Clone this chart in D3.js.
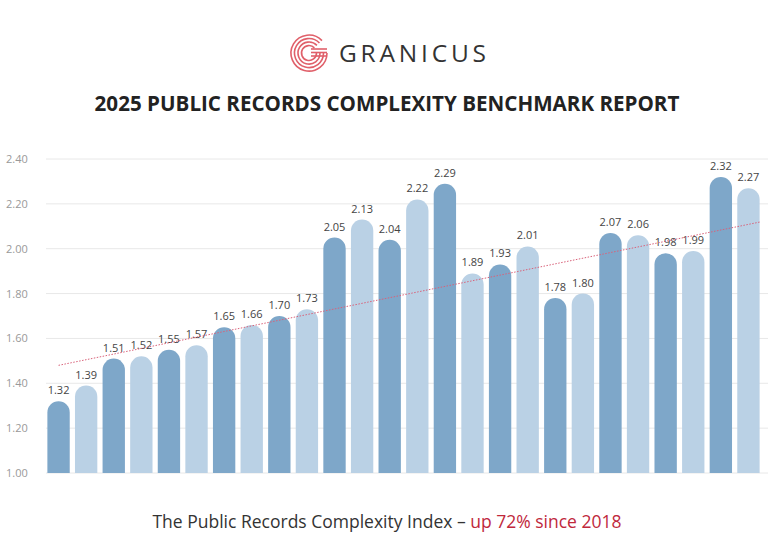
<!DOCTYPE html>
<html><head><meta charset="utf-8">
<script src="https://cdn.jsdelivr.net/npm/d3@7"></script>
<style>body{margin:0;background:#fff}svg{display:block}</style>
</head><body>
<script>
const values = [1.32,1.39,1.51,1.52,1.55,1.57,1.65,1.66,1.70,1.73,2.05,2.13,2.04,2.22,2.29,1.89,1.93,2.01,1.78,1.80,2.07,2.06,1.98,1.99,2.32,2.27];
const yTicks = [1.00,1.20,1.40,1.60,1.80,2.00,2.20,2.40];
const trend = [1.48,2.12];
const title = "2025 PUBLIC RECORDS COMPLEXITY BENCHMARK REPORT";
const brand = "GRANICUS";
const captionA = "The Public Records Complexity Index – ";
const captionB = "up 72% since 2018";

const W=768,H=553;
const svg=d3.select("body").append("svg").attr("width",W).attr("height",H);
const font="'Open Sans', Lato, sans-serif";
const x=d3.scaleBand().domain(d3.range(values.length)).range([46,761]).paddingInner(0.19).paddingOuter(0.05);
const y=d3.scaleLinear().domain([1,2.4]).range([473,159]);

svg.append("g").selectAll("line").data(yTicks).join("line")
 .attr("x1",46).attr("x2",768).attr("y1",d=>y(d)).attr("y2",d=>y(d))
 .attr("stroke","#e8e8e8").attr("stroke-width",1);
svg.append("g").selectAll("text").data(yTicks).join("text")
 .attr("x",6).attr("y",d=>y(d)+4).text(d=>d.toFixed(2))
 .attr("font-family",font).attr("font-size",11).attr("fill","#999");

const bw=x.bandwidth(), r=bw/2;
svg.append("g").selectAll("path").data(values).join("path")
 .attr("d",(d,i)=>{const x0=x(i),yt=y(d),yb=y(1);
   return `M${x0},${yb}V${yt+r}A${r},${r} 0 0 1 ${x0+bw},${yt+r}V${yb}Z`;})
 .attr("fill",(d,i)=>i%2===0?"#7ea7c9":"#bad1e5");
svg.append("g").selectAll("text").data(values).join("text")
 .attr("x",(d,i)=>x(i)+bw/2).attr("y",d=>y(d)-7).attr("text-anchor","middle")
 .text(d=>d.toFixed(2)).attr("font-family",font).attr("font-size",11).attr("fill","#444");

svg.append("line").attr("x1",x(0)+bw/2).attr("x2",761)
 .attr("y1",y(trend[0])).attr("y2",y(trend[1]))
 .attr("stroke","#d9627a").attr("stroke-width",1).attr("stroke-dasharray","1.5,1.5");

const lg=svg.append("g").attr("transform","translate(309,53)");
[18,14.5,11,7.5].forEach(rr=>{
  lg.append("path").attr("d",`M${rr*0.72},${-rr*0.69}A${rr},${rr} 0 1 0 ${rr},0`)
   .attr("fill","none").attr("stroke","#e0606a").attr("stroke-width",1.6);
});
[0,3.5,7].forEach(o=>lg.append("line").attr("x1",2).attr("x2",18).attr("y1",-1).attr("y2",-1)
  .attr("transform",`translate(0,${o-3})`).attr("stroke","#e0606a").attr("stroke-width",1.6));
svg.append("text").attr("x",339).attr("y",62).text(brand).attr("font-family",font)
 .attr("font-size",24.5).attr("letter-spacing",3.8).attr("fill","#333");

svg.append("text").attr("x",W/2+3).attr("y",111).attr("text-anchor","middle").text(title)
 .attr("font-family",font).attr("font-weight",700).attr("font-size",20.6).attr("fill","#222");

const cap=svg.append("text").attr("x",W/2+3).attr("y",528).attr("text-anchor","middle")
 .attr("font-family",font).attr("font-size",17.5).attr("fill","#333");
cap.append("tspan").text(captionA);
cap.append("tspan").text(captionB).attr("fill","#c0283c");
</script>
</body></html>
